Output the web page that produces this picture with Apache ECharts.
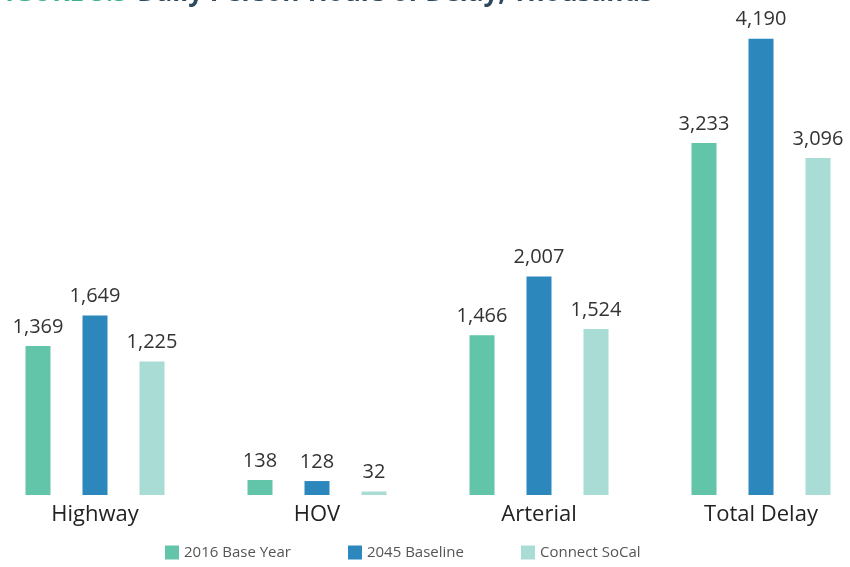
<!DOCTYPE html>
<html>
<head>
<meta charset="utf-8">
<script src="https://cdn.jsdelivr.net/npm/echarts@6/dist/echarts.min.js"></script>
<style>
  html, body { margin: 0; padding: 0; background: #fff; overflow: hidden; }
  #chart { width: 888px; height: 567px; margin-left: -16px; }
</style>
</head>
<body>
<div id="chart"></div>
<script>
"use strict";
var categories = ["Highway", "HOV", "Arterial", "Total Delay"];
var seriesNames = ["2016 Base Year", "2045 Baseline", "Connect SoCal"];
var base2016 = [1369, 138, 1466, 3233];
var baseline2045 = [1649, 128, 2007, 4190];
var connectSoCal = [1225, 32, 1524, 3096];
var colors = ["#62c4a8", "#2b87bc", "#a8dcd4"];

var chart = echarts.init(document.getElementById("chart"));

function makeSeries(name, data, color) {
    return {
        name: name,
        type: "bar",
        data: data,
        barWidth: 25,
        barGap: "128%",
        itemStyle: { color: color },
        label: {
            show: true,
            position: "top",
            distance: 9,
            fontSize: 20,
            fontFamily: "Open Sans",
            color: "#333",
            formatter: function (p) { return p.value.toLocaleString("en-US"); }
        }
    };
}

var option = {
    animation: false,
    textStyle: { fontFamily: "Open Sans" },
    // title sits mostly above the visible area, as in the source image
    title: {
        left: 2,
        top: -24,
        text: "{a|FIGURE 5.5}  {b|Daily Person-Hours of Delay, Thousands}",
        textStyle: {
            rich: {
                a: { fontSize: 26, fontWeight: "bold", color: "#3bb08f", fontFamily: "Open Sans" },
                b: { fontSize: 26, fontWeight: "bold", color: "#2f4a5e", fontFamily: "Open Sans" }
            }
        }
    },
    legend: {
        left: 176,
        bottom: 2,
        itemWidth: 14,
        itemHeight: 14,
        itemGap: 57,
        icon: "rect",
        textStyle: { fontSize: 15, color: "#555" },
        data: seriesNames
    },
    grid: { left: 0, right: 0, top: 5, bottom: 72 },
    xAxis: {
        type: "category",
        data: categories,
        axisLine: { show: false },
        axisTick: { show: false },
        axisLabel: { fontSize: 22, color: "#222", margin: 9 }
    },
    yAxis: {
        type: "value",
        min: 0,
        max: 4500,
        show: false,
        splitLine: { show: false }
    },
    series: [
        makeSeries(seriesNames[0], base2016, colors[0]),
        makeSeries(seriesNames[1], baseline2045, colors[1]),
        makeSeries(seriesNames[2], connectSoCal, colors[2])
    ]
};

chart.setOption(option);
</script>
</body>
</html>
